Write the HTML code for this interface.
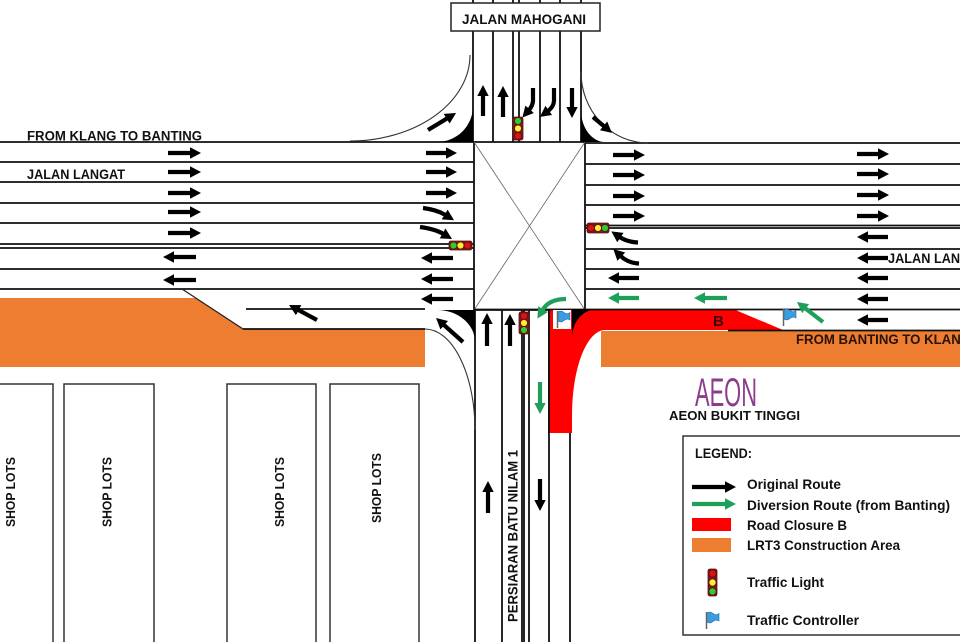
<!DOCTYPE html>
<html><head><meta charset="utf-8"><style>
html,body{margin:0;padding:0;background:#fff;width:960px;height:642px;overflow:hidden}
svg{display:block}
.t{font-family:"Liberation Sans",Arial,sans-serif;font-weight:bold;fill:#111}
.ln{stroke:#111;stroke-width:1.8;fill:none}
.th{stroke:#333;stroke-width:1.1;fill:none}
.a{stroke:#000;stroke-width:4.2;fill:none;marker-end:url(#ak)}
.g{stroke:#1fa05a;stroke-width:4.2;fill:none;marker-end:url(#ag)}
</style></head><body>
<svg width="960" height="642" viewBox="0 0 960 642" xmlns="http://www.w3.org/2000/svg">
<defs>
<marker id="ak" viewBox="0 0 12 12" markerUnits="userSpaceOnUse" markerWidth="12" markerHeight="12" refX="1" refY="6" orient="auto"><path d="M0,0.3L11,6L0,11.7z" fill="#000"/></marker>
<marker id="ag" viewBox="0 0 12 12" markerUnits="userSpaceOnUse" markerWidth="12" markerHeight="12" refX="1" refY="6" orient="auto"><path d="M0,0.3L11,6L0,11.7z" fill="#1fa05a"/></marker>
<g id="flag"><path d="M1,1 Q4,-1 7,1.5 T13,1.5 L13,9 Q10,7 7,9.5 T1,10 z" fill="#3d9be0" stroke="#1f6fb0" stroke-width="0.6"/><line x1="0.5" y1="0" x2="0.5" y2="17" stroke="#666" stroke-width="1.5"/></g>
</defs>
<rect width="960" height="642" fill="#fff"/>

<!-- orange construction -->
<polygon points="0,298 196,298 243,329 425,329 425,367 0,367" fill="#ED7D31"/>
<rect x="601" y="331" width="359" height="36" fill="#ED7D31"/>

<!-- shop lots -->
<g fill="none" stroke="#333" stroke-width="1.5">
<rect x="-2" y="384" width="55" height="270"/>
<rect x="64" y="384" width="90" height="270"/>
<rect x="227" y="384" width="89" height="270"/>
<rect x="330" y="384" width="89" height="270"/>
</g>

<!-- road lines -->
<path class="ln" d="M0,142H585 M585,143H960
M0,162H474 M0,182H474 M0,203H474 M0,223H474 M0,244H474 M0,248H474 M0,269H474 M0,289H474
M246,309H425 M243,329H425
M474,142V310 M585,142V310 M474,310H585
M585,164H960 M585,185H960 M585,205H960 M585,225.5H960 M585,228H960 M585,249H960 M585,269H960 M585,289H960
M473,0V142 M493,0V142 M513,0V142 M519,0V142 M540,0V142 M560,0V142 M581,0V142
M475,310V642 M502,310V642 M522,310V642 M524,310V642 M529,310V642 M549,310V642 M570,433V642"/>
<path d="M182,289L243,329" stroke="#222" stroke-width="1.3" fill="none"/>
<path d="M474,142L585,310 M585,142L474,310" stroke="#666" stroke-width="0.8" fill="none"/>

<!-- thin curb curves -->
<path class="th" d="M470,55 A120,86 0 0,1 350,141"/>
<path class="th" d="M581,72 A67,71 0 0,0 648,143"/>
<path class="th" d="M425,329 A50,101 0 0,1 475,430"/>

<!-- red closure -->
<path d="M549,309 L733,309 L783,330 L605,330 A33,85 0 0,0 572,415 L572,433 L549,433 Z" fill="#FF0000"/>
<path class="ln" d="M474,309.5H960 M728,330.5H960 M549,309V433"/>

<!-- black fillets -->
<path d="M473,142 L437,142 A36,36 0 0,0 473,106 Z" fill="#000"/>
<path d="M581,142 L581,110 A24,32 0 0,0 605,142 Z" fill="#000"/>
<path d="M475,310 L437,310 A38,32 0 0,1 475,342 Z" fill="#000"/>
<path d="M572,309 L597,309 A25,29 0 0,0 572,338 Z" fill="#000"/>

<!-- JALAN MAHOGANI box -->
<rect x="451" y="3" width="149" height="28" fill="#fff" stroke="#222" stroke-width="1.5"/>
<text class="t" x="462" y="24" font-size="13.5" textLength="124" lengthAdjust="spacingAndGlyphs">JALAN MAHOGANI</text>

<!-- legend box (drawn before its icons) -->
<rect x="683" y="436" width="290" height="199" fill="#fff" stroke="#333" stroke-width="1.5"/>

<!-- black arrows: left far -->
<path class="a" d="M168,153H191"/><path class="a" d="M168,172H191"/><path class="a" d="M168,193H191"/><path class="a" d="M168,212H191"/><path class="a" d="M168,233H191"/>
<path class="a" d="M196,257H173"/><path class="a" d="M196,280H173"/>
<!-- left near -->
<path class="a" d="M426,153H447"/><path class="a" d="M426,172H447"/><path class="a" d="M426,193H447"/>
<path class="a" d="M423,208 Q437,209.8 445.5,215"/>
<path class="a" d="M420,227 Q435,229 443.4,233.9"/>
<path class="a" d="M453,258H431"/><path class="a" d="M453,279H431"/><path class="a" d="M453,299H431"/>
<path class="a" d="M317,320L297.8,309.7"/>
<path class="a" d="M463,342L443.5,324.6"/>
<!-- top road -->
<path class="a" d="M483,116V95"/><path class="a" d="M503,117V96"/>
<path class="a" d="M533,88 L533,101 Q532.5,106 529,110"/>
<path class="a" d="M554,88 L554,101 Q553.5,107 548,111"/>
<path class="a" d="M572,88V108"/>
<path class="a" d="M428,130L447.5,118.2"/>
<path class="a" d="M593,117L604.3,126.5"/>
<!-- right -->
<path class="a" d="M613,155H635"/><path class="a" d="M613,175H635"/><path class="a" d="M613,196H635"/><path class="a" d="M613,216H635"/>
<path class="a" d="M857,154H879"/><path class="a" d="M857,174H879"/><path class="a" d="M857,195H879"/><path class="a" d="M857,216H879"/>
<path class="a" d="M888,237H867"/><path class="a" d="M888,258H867"/><path class="a" d="M888,278H867"/><path class="a" d="M888,299H867"/><path class="a" d="M888,320H867"/>
<path class="a" d="M638,242.5 Q627,242 619.6,237"/>
<path class="a" d="M639,263.5 Q628,263 620.6,256"/>
<path class="a" d="M639,278H618"/>
<!-- bottom -->
<path class="a" d="M487,346V323"/><path class="a" d="M510,346V324"/>
<path class="a" d="M488,513V491"/><path class="a" d="M540,479V501"/>

<!-- green arrows -->
<path class="g" d="M639,298H618"/><path class="g" d="M727,298H704"/>
<path class="g" d="M823,322L804.9,308.1"/>
<path class="g" d="M566,299 Q549,299 542.5,310"/>
<path class="g" d="M540,382V404"/>

<!-- traffic lights -->
<g stroke="#5a1010" stroke-width="0.8">
<rect x="513" y="117" width="10" height="23" rx="2" fill="#7a1a1a"/>
<circle cx="518" cy="121" r="3.5" fill="#2ecc2e"/><circle cx="518" cy="128.5" r="3.5" fill="#ffee33"/><circle cx="518" cy="136" r="3.5" fill="#dd1111"/>
<rect x="519" y="312" width="10" height="22" rx="2" fill="#7a1a1a"/>
<circle cx="524" cy="316" r="3.5" fill="#dd1111"/><circle cx="524" cy="323" r="3.5" fill="#ffee33"/><circle cx="524" cy="330" r="3.5" fill="#2ecc2e"/>
<rect x="449" y="241" width="23" height="9" rx="2" fill="#7a1a1a"/>
<circle cx="453.5" cy="245.5" r="3.5" fill="#2ecc2e"/><circle cx="460.5" cy="245.5" r="3.5" fill="#ffee33"/><circle cx="467.5" cy="245.5" r="3.5" fill="#dd1111"/>
<rect x="587" y="223" width="22" height="10" rx="2" fill="#7a1a1a"/>
<circle cx="591" cy="228" r="3.5" fill="#dd1111"/><circle cx="598" cy="228" r="3.5" fill="#ffee33"/><circle cx="605" cy="228" r="3.5" fill="#2ecc2e"/>
<rect x="708" y="569" width="9" height="27" rx="2" fill="#7a1a1a"/>
<circle cx="712.5" cy="573.5" r="3.6" fill="#dd1111"/><circle cx="712.5" cy="582.5" r="3.6" fill="#ffee33"/><circle cx="712.5" cy="591.5" r="3.6" fill="#2ecc2e"/>
</g>

<!-- flags -->
<rect x="553" y="310" width="18" height="19" fill="#fff"/>
<use href="#flag" x="557" y="311"/>
<use href="#flag" x="783" y="309"/>
<use href="#flag" x="706" y="612"/>

<!-- labels -->
<text class="t" x="27" y="140.5" font-size="13.5" textLength="175" lengthAdjust="spacingAndGlyphs">FROM KLANG TO BANTING</text>
<text class="t" x="27" y="179" font-size="13.5" textLength="98" lengthAdjust="spacingAndGlyphs">JALAN LANGAT</text>
<text class="t" x="888" y="263" font-size="13.5" textLength="98" lengthAdjust="spacingAndGlyphs">JALAN LANGAT</text>
<text class="t" x="796" y="344" font-size="13.5" textLength="175" lengthAdjust="spacingAndGlyphs" style="fill:#2a1208">FROM BANTING TO KLANG</text>
<text class="t" x="713" y="326" font-size="15" style="fill:#3a0505">B</text>
<text x="695" y="406" font-family="Liberation Sans, Arial, sans-serif" font-size="40" fill="#8e3d8c" textLength="62" lengthAdjust="spacingAndGlyphs">AEON</text>
<text class="t" x="669" y="420" font-size="13" textLength="131" lengthAdjust="spacingAndGlyphs">AEON BUKIT TINGGI</text>

<text class="t" font-size="13" text-anchor="middle" textLength="70" lengthAdjust="spacingAndGlyphs" transform="translate(15,492) rotate(-90)">SHOP LOTS</text>
<text class="t" font-size="13" text-anchor="middle" textLength="70" lengthAdjust="spacingAndGlyphs" transform="translate(111.5,492) rotate(-90)">SHOP LOTS</text>
<text class="t" font-size="13" text-anchor="middle" textLength="70" lengthAdjust="spacingAndGlyphs" transform="translate(284,492) rotate(-90)">SHOP LOTS</text>
<text class="t" font-size="13" text-anchor="middle" textLength="70" lengthAdjust="spacingAndGlyphs" transform="translate(381,488) rotate(-90)">SHOP LOTS</text>
<text class="t" font-size="14" text-anchor="middle" textLength="172" lengthAdjust="spacingAndGlyphs" transform="translate(517.5,536) rotate(-90)">PERSIARAN BATU NILAM 1</text>

<!-- legend contents -->
<text class="t" x="695" y="458" font-size="14" textLength="57" lengthAdjust="spacingAndGlyphs">LEGEND:</text>
<path class="a" d="M692,487H726"/>
<path class="g" d="M692,504H726"/>
<rect x="692" y="518" width="39" height="13" fill="#FF0000"/>
<rect x="692" y="538" width="39" height="14" fill="#ED7D31"/>
<text class="t" x="747" y="489" font-size="14" textLength="94" lengthAdjust="spacingAndGlyphs">Original Route</text>
<text class="t" x="747" y="510" font-size="14" textLength="203" lengthAdjust="spacingAndGlyphs">Diversion Route (from Banting)</text>
<text class="t" x="747" y="530" font-size="14" textLength="100" lengthAdjust="spacingAndGlyphs">Road Closure B</text>
<text class="t" x="747" y="550" font-size="14" textLength="153" lengthAdjust="spacingAndGlyphs">LRT3 Construction Area</text>
<text class="t" x="747" y="587" font-size="14" textLength="77" lengthAdjust="spacingAndGlyphs">Traffic Light</text>
<text class="t" x="747" y="625" font-size="14" textLength="112" lengthAdjust="spacingAndGlyphs">Traffic Controller</text>
</svg>
</body></html>
